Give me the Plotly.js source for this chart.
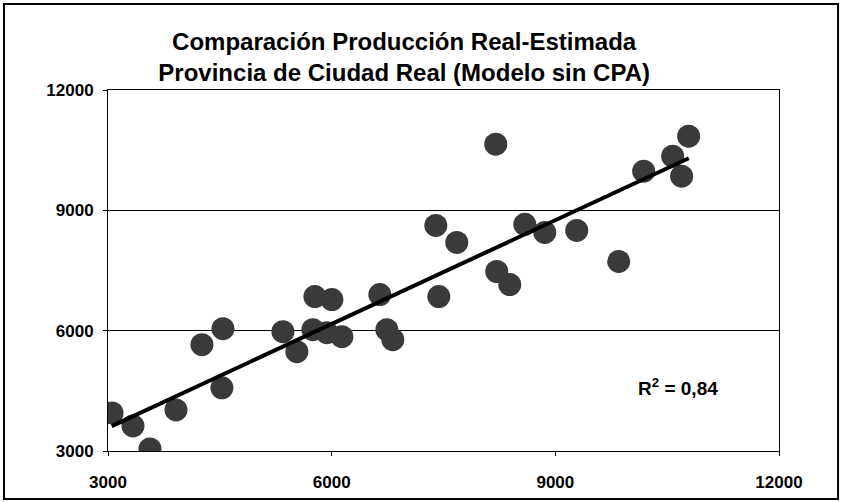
<!DOCTYPE html>
<html>
<head>
<meta charset="utf-8">
<script src="https://cdn.plot.ly/plotly-3.0.1.min.js"></script>
<style>html,body{margin:0;padding:0;background:#fff;}#chart{width:842px;height:502px;}</style>
</head>
<body>
<div id="chart"></div>
<script>
// Producción real (x) vs estimada (y)
const realValues = [3054, 3335, 3563, 3912, 4260, 4542, 4528, 5346, 5533, 5748, 5775, 6003, 5936, 6137, 6646, 6740, 6820, 7397, 7437, 7678, 8201, 8214, 8389, 8590, 8858, 9287, 9850, 10185, 10574, 10788, 10694];
const estimatedValues = [3950, 3625, 3050, 4025, 5650, 6050, 4575, 5975, 5475, 6025, 6850, 6775, 5950, 5850, 6900, 6025, 5775, 8625, 6850, 8200, 10650, 7475, 7150, 8650, 8450, 8500, 7725, 9975, 10350, 10850, 9850];
// Línea de tendencia (lineal)
const trendX = [3050, 10790];
const trendY = [3620, 10300];
const tickValues = [3000, 6000, 9000, 12000];
const tickLabels = ['3000', '6000', '9000', '12000'];
const titleText = 'Comparación Producción Real-Estimada<br>Provincia de Ciudad Real (Modelo sin CPA)';
const r2Text = 'R<sup>2</sup> = 0,84';

const FONT = 'Liberation Sans, Arial, sans-serif';

const traces = [
  {
    x: realValues, y: estimatedValues, type: 'scatter', mode: 'markers',
    marker: {symbol: 'circle', size: 23, color: '#3a3a3a', line: {width: 0}},
    hoverinfo: 'x+y', showlegend: false
  },
  {
    x: trendX, y: trendY, type: 'scatter', mode: 'lines',
    line: {color: '#000', width: 4}, hoverinfo: 'skip', showlegend: false
  }
];

const axisCommon = {
  range: [3000, 12000], tickvals: tickValues, ticktext: tickLabels,
  showline: true, mirror: true, linecolor: '#000', linewidth: 1,
  ticks: 'outside', ticklen: 4, tickcolor: '#000',
  zeroline: false,
  tickfont: {family: FONT, size: 17, color: '#000', weight: 'bold'}
};

const layout = {
  width: 842, height: 502,
  margin: {l: 108, r: 63, t: 90, b: 51},
  paper_bgcolor: '#fff', plot_bgcolor: '#fff',
  title: {
    text: titleText, x: 0.48, xref: 'container', xanchor: 'center',
    y: 0.900, yref: 'container', yanchor: 'middle',
    font: {family: FONT, size: 24, color: '#000', weight: 'bold'}
  },
  xaxis: Object.assign({}, axisCommon, {showgrid: false, ticklabelstandoff: 12}),
  yaxis: Object.assign({}, axisCommon, {showgrid: true, gridcolor: '#000', gridwidth: 1, ticklabelstandoff: 6}),
  annotations: [{
    text: r2Text, x: 10640, y: 4600, xref: 'x', yref: 'y', showarrow: false,
    font: {family: FONT, size: 19, color: '#000', weight: 'bold'}
  }],
  shapes: [{
    type: 'rect', xref: 'paper', yref: 'paper',
    x0: -0.155, x1: 1.088, y0: -0.133, y1: 1.238,
    line: {color: '#000', width: 2}, fillcolor: 'rgba(0,0,0,0)', layer: 'below'
  }],
  showlegend: false
};

Plotly.newPlot('chart', traces, layout, {displayModeBar: false, staticPlot: true});
</script>
</body>
</html>
